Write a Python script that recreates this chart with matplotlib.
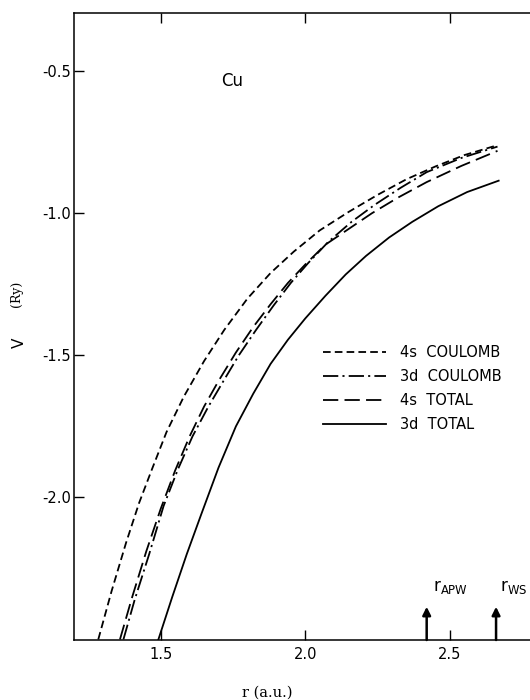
import matplotlib
matplotlib.use("Agg")
import matplotlib.pyplot as plt

plt.rcParams['axes.unicode_minus'] = False
plt.rcParams['lines.scale_dashes'] = False
plt.rcParams['font.family'] = ['DejaVu Sans']

# ---- data ----
r_4s_coul = [1.284, 1.33, 1.38, 1.425, 1.47, 1.52, 1.58, 1.65, 1.72, 1.80, 1.88, 1.96,
             2.05, 2.15, 2.25, 2.35, 2.45, 2.55, 2.665]
V_4s_coul = [-2.50, -2.33, -2.16, -2.02, -1.90, -1.77, -1.645, -1.52, -1.41, -1.30, -1.21, -1.135,
             -1.06, -0.995, -0.935, -0.88, -0.835, -0.795, -0.76]

r_3d_coul = [1.371, 1.41, 1.46, 1.51, 1.56, 1.61, 1.665, 1.72, 1.77, 1.83, 1.89, 1.95,
             2.01, 2.08, 2.16, 2.24, 2.33, 2.42, 2.54, 2.665]
V_3d_coul = [-2.50, -2.36, -2.20, -2.03, -1.90, -1.785, -1.68, -1.585, -1.50, -1.41, -1.325, -1.245,
             -1.175, -1.10, -1.03, -0.97, -0.91, -0.855, -0.805, -0.765]

r_4s_tot = [1.359, 1.40, 1.45, 1.50, 1.55, 1.60, 1.65, 1.70, 1.76, 1.82, 1.88, 1.94,
            2.00, 2.07, 2.15, 2.23, 2.32, 2.42, 2.54, 2.665]
V_4s_tot = [-2.50, -2.355, -2.19, -2.04, -1.905, -1.785, -1.68, -1.59, -1.49, -1.40, -1.32, -1.245,
            -1.18, -1.11, -1.055, -1.00, -0.945, -0.89, -0.833, -0.78]

r_3d_tot = [1.492, 1.54, 1.59, 1.64, 1.70, 1.76, 1.82, 1.88, 1.94, 2.00, 2.07, 2.14,
            2.21, 2.29, 2.37, 2.46, 2.56, 2.669]
V_3d_tot = [-2.50, -2.35, -2.20, -2.06, -1.895, -1.75, -1.635, -1.53, -1.445, -1.37, -1.29, -1.215,
            -1.15, -1.085, -1.03, -0.975, -0.925, -0.885]

labels = ["4s  COULOMB", "3d  COULOMB", "4s  TOTAL", "3d  TOTAL"]
x_ticks = [1.5, 2.0, 2.5]
x_ticklabels = ["1.5", "2.0", "2.5"]
y_ticks = [-0.5, -1.0, -1.5, -2.0]
y_ticklabels = ["-0.5", "-1.0", "-1.5", "-2.0"]
r_apw = 2.42
r_ws = 2.66

fig = plt.figure(figsize=(5.3, 7.0), dpi=100)
ax = fig.add_axes([74/530, 1-640/700, 466/530, 627.2/700])

lw = 1.3
ax.plot(r_4s_coul, V_4s_coul, color='black', lw=lw, dashes=(5.5, 3.0), label=labels[0])
ax.plot(r_3d_coul, V_3d_coul, color='black', lw=lw, dashes=(11, 3, 1.5, 3), label=labels[1])
ax.plot(r_4s_tot, V_4s_tot, color='black', lw=lw, dashes=(11, 4.5), label=labels[2])
ax.plot(r_3d_tot, V_3d_tot, color='black', lw=lw, label=labels[3])

ax.set_xlim(1.2, 2.812)
ax.set_ylim(-2.502, -0.294)

ax.set_xticks(x_ticks)
ax.set_xticklabels(x_ticklabels)
ax.set_yticks(y_ticks)
ax.set_yticklabels(y_ticklabels)
ax.tick_params(direction='in', length=7.5, width=1.0, top=True, right=True,
               labelsize=10.5, colors='black')
ax.tick_params(axis='y', pad=2)
ax.tick_params(axis='x', pad=5)
for s in ax.spines.values():
    s.set_linewidth(1.1)

# annotations
ax.text(1.747, -0.533, "Cu", fontsize=12, ha='center', va='center')

for rv in (r_apw, r_ws):
    ax.annotate("", xy=(rv, -2.385), xytext=(rv, -2.502),
                arrowprops=dict(arrowstyle='-|>', color='black', lw=1.8,
                                mutation_scale=12, shrinkA=0, shrinkB=0))
ax.text(r_apw + 0.021, -2.33, r"$\mathsf{r}_{\mathsf{APW}}$", fontsize=12, ha='left', va='baseline')
ax.text(r_ws + 0.014, -2.33, r"$\mathsf{r}_{\mathsf{WS}}$", fontsize=12, ha='left', va='baseline')

# axis labels
fig.text(19/530, 1-343/700, "V", rotation=90, fontsize=11, ha='center', va='center')
fig.text(17/530, 1-294/700, "(Ry)", rotation=90, fontsize=9, ha='center', va='center',
         family='DejaVu Serif')
fig.text(267/530, 1-693/700, "r (a.u.)", fontsize=10.5, ha='center', va='center',
         family='DejaVu Serif')

leg = ax.legend(loc='upper left', bbox_to_anchor=(323/530, 1-345/700),
                bbox_transform=fig.transFigure, frameon=False, fontsize=10.5,
                handlelength=4.3, handletextpad=1.0, labelspacing=0.62,
                borderpad=0, borderaxespad=0)

fig.savefig("out.png", dpi=100)
